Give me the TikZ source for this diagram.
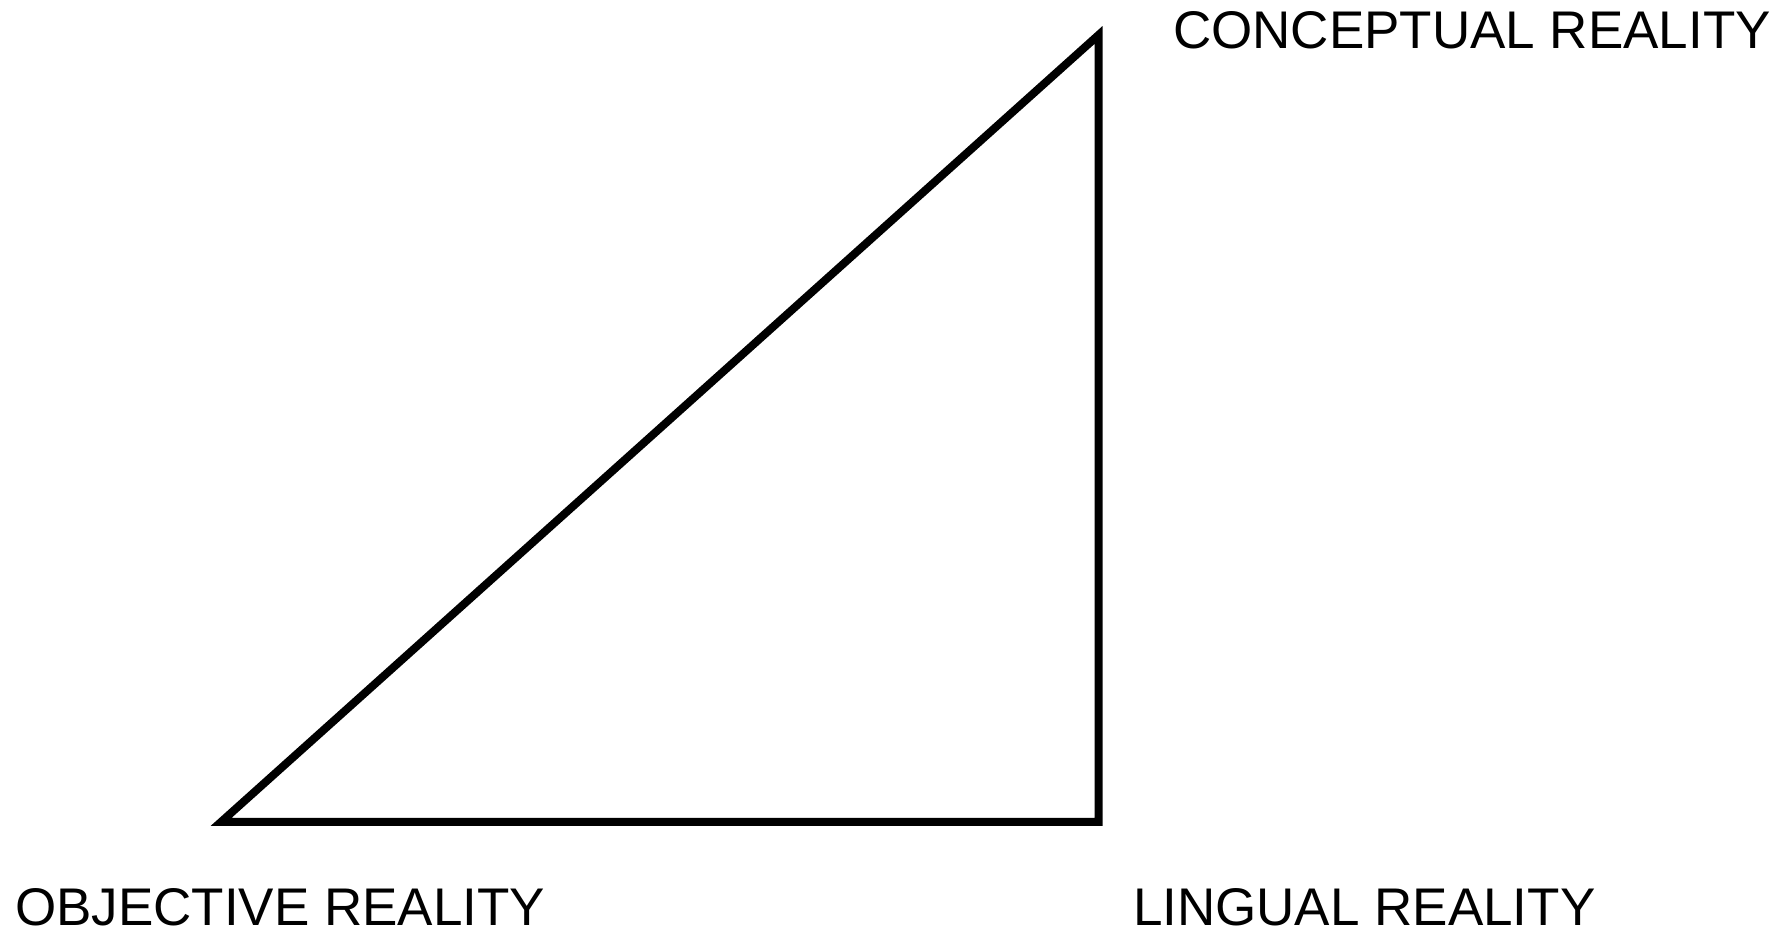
\documentclass[tikz,border=0pt]{standalone}
\usepackage{fontspec}
\setmainfont{Liberation Sans}
\usetikzlibrary{positioning}

\begin{document}
\begin{tikzpicture}[x=1pt, y=1pt, line width=8pt,
    reality/.style={inner sep=0pt, anchor=base west, font=\fontsize{53}{60}\selectfont}]
    \useasboundingbox (0,0) rectangle (1791,933);
    % corners of the triangle
    \coordinate (obj) at (221,111);
    \coordinate (ling) at (1098.5,111);
    \coordinate (conc) at (1098.5,898);
    \node[reality] (objlabel) at (11,7.5) {OBJECTIVE REALITY};
    \node[reality] (linglabel) at (1129,7.5) {LINGUAL REALITY};
    \node[reality] (conclabel) at (1169,884) {CONCEPTUAL REALITY};
    \draw (obj) -- (ling) -- (conc) -- cycle;
\end{tikzpicture}
\end{document}
